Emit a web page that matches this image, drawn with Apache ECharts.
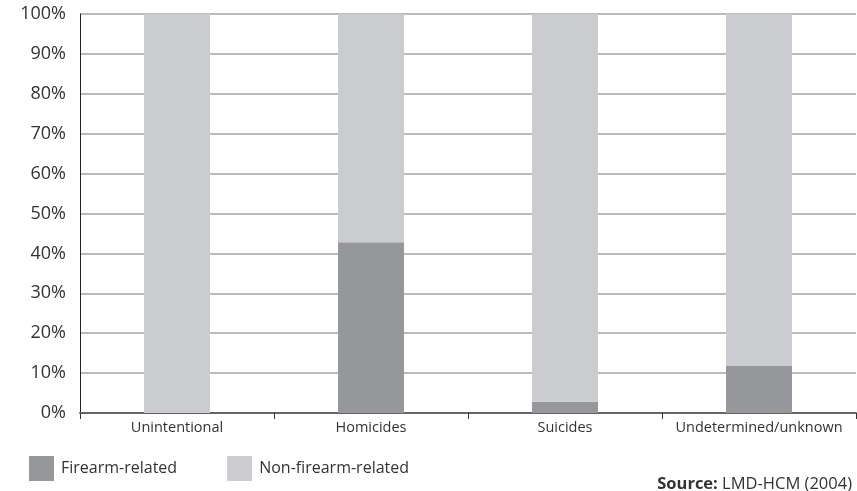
<!DOCTYPE html>
<html><head><meta charset="utf-8">
<script src="https://cdn.jsdelivr.net/npm/echarts@6/dist/echarts.min.js"></script>
<style>html,body{margin:0;padding:0;background:#fff}#c{width:857px;height:491px}</style>
</head><body><div id="c"></div>
<script>
const categories = ['Unintentional', 'Homicides', 'Suicides', 'Undetermined/unknown'];
const firearmRelated = [0, 42.8, 2.8, 11.8];
const nonFirearmRelated = [100, 57.2, 97.2, 88.2];
const yTicks = [0, 10, 20, 30, 40, 50, 60, 70, 80, 90, 100];

const FONT = 'Open Sans';
const chart = echarts.init(document.getElementById('c'), null, {renderer: 'canvas'});
chart.setOption({
  animation: false,
  textStyle: {fontFamily: FONT},
  grid: {left: 80, right: 1, top: 14, bottom: 78, containLabel: false},
  legend: {
    left: 24, top: 451, itemWidth: 25, itemHeight: 25, itemGap: 50,
    icon: 'rect',
    textStyle: {fontFamily: FONT, fontSize: 16, color: '#333', padding: [0, 0, 0, 2]},
    data: ['Firearm-related', 'Non-firearm-related']
  },
  title: {
    text: '{b|Source:} LMD-HCM (2004)',
    right: 0, top: 471,
    textStyle: {fontFamily: FONT, fontSize: 16.5, color: '#333', fontWeight: 'normal',
      rich: {b: {fontFamily: FONT, fontSize: 16.5, fontWeight: 'bold', color: '#333'}}}
  },
  xAxis: {
    type: 'category', data: categories,
    axisLine: {lineStyle: {color: '#666', width: 2}},
    axisTick: {show: true, length: 6, lineStyle: {color: '#333', width: 1}},
    axisLabel: {fontFamily: FONT, fontSize: 14.5, color: '#333', margin: 7, interval: 0}
  },
  yAxis: {
    type: 'value', min: 0, max: 100, interval: 10,
    axisLine: {show: true, lineStyle: {color: '#222', width: 1}},
    axisTick: {show: false},
    axisLabel: {fontFamily: FONT, fontSize: 18, color: '#333', margin: 14,
      formatter: v => yTicks.includes(v) ? v + '%' : ''},
    splitLine: {lineStyle: {color: '#bbb', width: 2}}
  },
  series: [
    {name: 'Firearm-related', type: 'bar', stack: 's', data: firearmRelated, barWidth: '34%',
      itemStyle: {color: '#96979b'}},
    {name: 'Non-firearm-related', type: 'bar', stack: 's', data: nonFirearmRelated, barWidth: '34%',
      itemStyle: {color: '#cbcccf'}}
  ]
});
</script></body></html>
